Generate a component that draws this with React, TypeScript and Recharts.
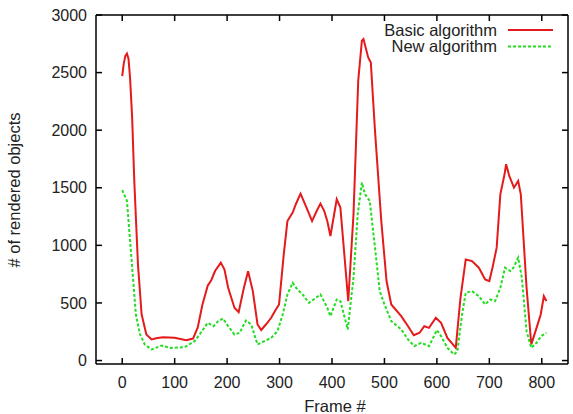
import React from 'react';
import { LineChart, Line, XAxis, YAxis, Customized } from 'recharts';

const basicFrames = [0, 3, 6, 9, 12, 15, 19, 23, 30, 37, 46, 56, 67, 78, 100, 122, 135, 144, 153, 163, 170, 177, 188, 195, 202, 214, 222, 232, 240, 249, 258, 265, 274, 284, 293, 299, 308, 315, 325, 331, 340, 350, 362, 371, 378, 385, 391, 397, 409, 416, 431, 441, 450, 457, 460, 469, 474, 482, 494, 504, 513, 532, 545, 556, 567, 576, 585, 598, 608, 620, 636, 645, 655, 667, 680, 692, 700, 706, 714, 721, 729, 732, 738, 747, 755, 760, 771, 780, 790, 798, 804, 809];
const basicValues = [2470, 2580, 2645, 2665, 2620, 2450, 2100, 1560, 835, 400, 226, 183, 195, 203, 197, 177, 191, 287, 487, 650, 700, 777, 850, 790, 632, 458, 420, 632, 775, 603, 313, 265, 313, 371, 443, 487, 922, 1211, 1284, 1357, 1449, 1342, 1211, 1300, 1362, 1300, 1211, 1081, 1400, 1328, 516, 1270, 2429, 2777, 2791, 2632, 2588, 1994, 1211, 690, 487, 385, 298, 220, 241, 298, 284, 371, 328, 197, 110, 545, 878, 864, 806, 704, 690, 806, 980, 1443, 1617, 1704, 1603, 1501, 1559, 1443, 632, 139, 284, 400, 559, 516];

const newFrames = [0, 9, 12, 17, 21, 26, 34, 43, 56, 75, 91, 119, 138, 150, 163, 174, 183, 192, 202, 214, 224, 236, 246, 258, 271, 284, 296, 306, 315, 325, 334, 344, 356, 365, 378, 391, 397, 409, 416, 430, 441, 449, 457, 463, 472, 482, 491, 500, 513, 532, 545, 557, 570, 585, 600, 608, 620, 633, 639, 648, 655, 667, 680, 692, 702, 711, 721, 730, 740, 746, 755, 762, 771, 780, 790, 799, 809];
const newValues = [1480, 1386, 1211, 922, 690, 400, 226, 139, 96, 130, 110, 116, 168, 241, 328, 298, 342, 365, 298, 226, 241, 348, 313, 139, 168, 197, 255, 400, 574, 675, 617, 574, 501, 530, 574, 458, 385, 530, 516, 270, 719, 1270, 1545, 1443, 1386, 980, 603, 487, 342, 270, 183, 125, 154, 125, 265, 212, 110, 52, 81, 400, 588, 603, 559, 487, 530, 516, 632, 806, 777, 806, 893, 719, 255, 110, 154, 212, 241];

const xTicks = [0, 100, 200, 300, 400, 500, 600, 700, 800];
const yTicks = [0, 500, 1000, 1500, 2000, 2500, 3000];
const seriesNames = ['Basic algorithm', 'New algorithm'];

const basicData = basicFrames.map((f, i) => ({ frame: f, value: basicValues[i] }));
const newData = newFrames.map((f, i) => ({ frame: f, value: newValues[i] }));

const FONT = '"Liberation Sans", Arial, Helvetica, sans-serif';
const TXT = '#222';
const RED = '#e41a1c';
const GREEN = '#22dd22';
const TICK = 6;
const TICK_FS = 16;
const LABEL_FS = 16.5;

const LeftTick = (props: any) => {
  const { x, y, payload } = props;
  return (
    <g>
      <line x1={x} y1={y} x2={x + TICK} y2={y} stroke="#000" strokeWidth={1.5} />
      <text x={x - 9} y={y} dy="0.35em" textAnchor="end" fontSize={TICK_FS} fontFamily={FONT} fill={TXT}>{payload.value}</text>
    </g>
  );
};
const RightTick = (props: any) => {
  const { x, y } = props;
  return <line x1={x} y1={y} x2={x - TICK} y2={y} stroke="#000" strokeWidth={1.5} />;
};
const BottomTick = (props: any) => {
  const { x, y, payload } = props;
  return (
    <g>
      <line x1={x} y1={y} x2={x} y2={y - TICK} stroke="#000" strokeWidth={1.5} />
      <text x={x} y={y + 24} textAnchor="middle" fontSize={TICK_FS} fontFamily={FONT} fill={TXT}>{payload.value}</text>
    </g>
  );
};
const TopTick = (props: any) => {
  const { x, y } = props;
  return <line x1={x} y1={y} x2={x} y2={y + TICK} stroke="#000" strokeWidth={1.5} />;
};

const Extras = () => (
  <g fontFamily={FONT} fill={TXT}>
    <text x={20} y={190} transform="rotate(-90 20 190)" textAnchor="middle" fontSize={LABEL_FS}>
      # of rendered objects
    </text>
    <text x={335} y={412} textAnchor="middle" fontSize={LABEL_FS}>Frame #</text>
    <text x={497} y={35.5} textAnchor="end" fontSize={LABEL_FS}>{seriesNames[0]}</text>
    <line x1={508} y1={30} x2={553} y2={30} stroke={RED} strokeWidth={2} />
    <text x={497} y={52} textAnchor="end" fontSize={LABEL_FS}>{seriesNames[1]}</text>
    <line x1={508} y1={46.5} x2={553} y2={46.5} stroke={GREEN} strokeWidth={2} strokeDasharray="3 2" />
  </g>
);

export default function App() {
  return (
    <div style={{ position: 'absolute', left: 0, top: 0, background: '#fff' }}>
      <LineChart width={573} height={414} margin={{ top: 14, right: 4, bottom: 0, left: 0 }}>
        <XAxis
          dataKey="frame"
          type="number"
          domain={[-50, 850]}
          ticks={xTicks}
          allowDataOverflow
          height={50}
          tickSize={0}
          tickMargin={0}
          tick={<BottomTick />}
          axisLine={{ stroke: '#000', strokeWidth: 1.5 }}
          tickLine={false}
        />
        <XAxis
          xAxisId="top"
          orientation="top"
          dataKey="frame"
          type="number"
          domain={[-50, 850]}
          ticks={xTicks}
          allowDataOverflow
          height={1}
          tickSize={0}
          tickMargin={0}
          tick={<TopTick />}
          axisLine={{ stroke: '#000', strokeWidth: 1.5 }}
          tickLine={false}
        />
        <YAxis
          type="number"
          domain={[-30, 3000]}
          ticks={yTicks}
          allowDataOverflow
          width={96}
          tickSize={0}
          tickMargin={0}
          tick={<LeftTick />}
          axisLine={{ stroke: '#000', strokeWidth: 1.5 }}
          tickLine={false}
        />
        <YAxis
          yAxisId="right"
          orientation="right"
          type="number"
          domain={[-30, 3000]}
          ticks={yTicks}
          allowDataOverflow
          width={1}
          tickSize={0}
          tickMargin={0}
          tick={<RightTick />}
          axisLine={{ stroke: '#000', strokeWidth: 1.5 }}
          tickLine={false}
        />
        <Line
          xAxisId="top"
          yAxisId="right"
          data={basicData}
          dataKey="value"
          type="linear"
          stroke="none"
          dot={false}
          activeDot={false}
          legendType="none"
          isAnimationActive={false}
        />
        <Line data={basicData} dataKey="value" type="linear" stroke={RED} strokeWidth={2} dot={false} isAnimationActive={false} />
        <Line data={newData} dataKey="value" type="linear" stroke={GREEN} strokeWidth={2} strokeDasharray="3 2" dot={false} isAnimationActive={false} />
        <Customized component={Extras} />
      </LineChart>
    </div>
  );
}
